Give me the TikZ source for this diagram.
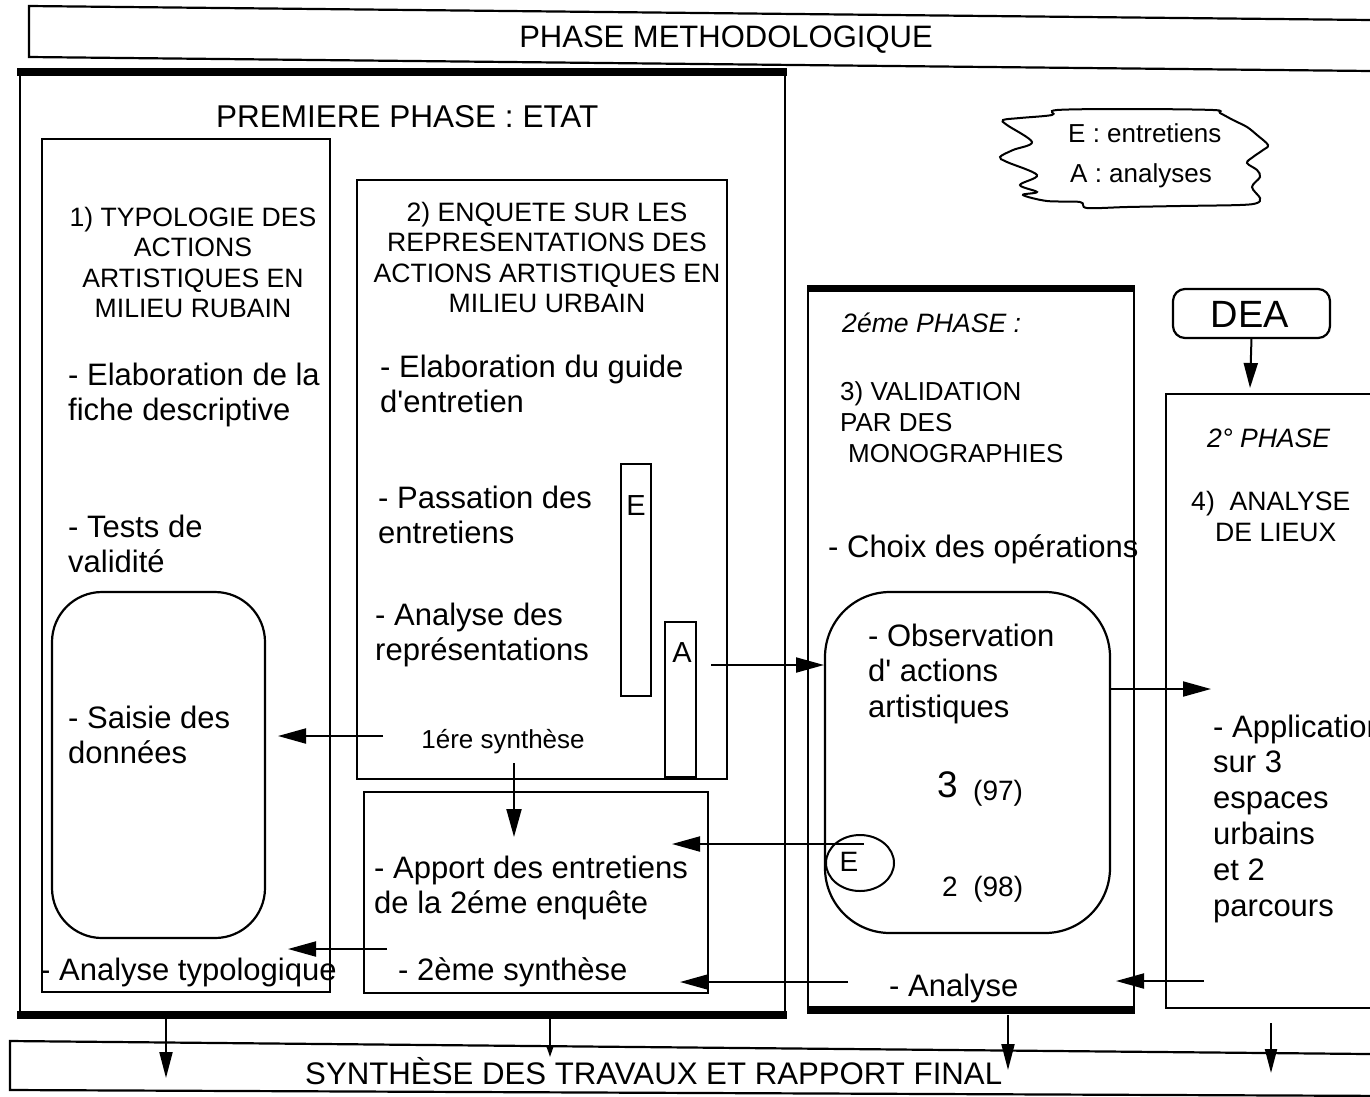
\documentclass[tikz,border=0pt]{standalone}
\usepackage{fontspec}
\setmainfont{Liberation Sans}
\usetikzlibrary{arrows.meta,shapes.geometric}
\newcommand\mylines[1]{\vtop{\halign{##\hfil\cr#1\crcr}}}
\newcommand\mycent[1]{\vtop{\halign{\hfil##\hfil\cr#1\crcr}}}
\begin{document}
\begin{tikzpicture}[x=1pt,y=-1pt,
  box/.style={draw, line width=2.2pt, rectangle, inner sep=0pt, outer sep=0pt},
  txt/.style={inner sep=0pt, font=\fontsize{31}{35.5}\selectfont},
  capstxt/.style={inner sep=0pt, font=\fontsize{26.6}{30.5}\selectfont},
  capsit/.style={inner sep=0pt, font=\fontsize{26.6}{30.5}\selectfont\itshape},
  smalltxt/.style={inner sep=0pt, font=\fontsize{26}{31}\selectfont},
  arr/.style={line width=2pt, -{Triangle[length=28pt,width=15pt]}},
  thickedge/.style={line width=8pt, line cap=butt}]
\useasboundingbox (0,0) rectangle (1370,1096);
\clip (0,0) rectangle (1370,1096);
% top title box
\draw[line width=2.2pt] (29,6) -- (1400,20.3) -- (1400,71.3) -- (29,57) -- cycle;
\node[inner sep=0pt, font=\fontsize{31}{35}\selectfont, anchor=base] (ttl) at (726,47) {PHASE METHODOLOGIQUE};
% first phase
\node[box, minimum width=765, minimum height=943] (big) at (402.5,543.5) {};
\draw[thickedge] ([xshift=-3pt]big.north west) -- ([xshift=2pt]big.north east);
\draw[thickedge] ([xshift=-3pt]big.south west) -- ([xshift=2pt]big.south east);
\node[inner sep=0pt, font=\fontsize{31.5}{35}\selectfont, anchor=base west] (p1) at (216,127) {PREMIERE PHASE : ETAT};
% box 1
\node[box, minimum width=288, minimum height=853] (b1) at (186,565.5) {};
\node[capstxt, anchor=base] (b1h) at (193,226) {\mycent{1) TYPOLOGIE DES\cr ACTIONS\cr ARTISTIQUES EN\cr MILIEU RUBAIN}};
\node[txt, anchor=base west] (b1a) at (68,385) {\mylines{- Elaboration de la\cr fiche descriptive}};
\node[txt, anchor=base west] (b1b) at (68,537) {\mylines{- Tests de\cr validité}};
\node[box, rounded corners=50pt, minimum width=213, minimum height=346] (r1) at (158.5,765) {};
\node[txt, anchor=base west] (b1c) at (68,728) {\mylines{- Saisie des\cr données}};
\node[txt, anchor=base west] (b1d) at (40,980) {- Analyse typologique};
% box 2
\node[box, minimum width=370, minimum height=599] (b2) at (542,479.5) {};
\node[capstxt, anchor=base] (b2h) at (547,221) {\mycent{2) ENQUETE SUR LES\cr REPRESENTATIONS DES\cr ACTIONS ARTISTIQUES EN\cr MILIEU URBAIN}};
\node[txt, anchor=base west] (b2a) at (380,377) {\mylines{- Elaboration du guide\cr d\textquotesingle entretien}};
\node[txt, anchor=base west] (b2b) at (378,508) {\mylines{- Passation des\cr entretiens}};
\node[txt, anchor=base west] (b2c) at (375,625) {\mylines{- Analyse des\cr représentations}};
\node[box, minimum width=30, minimum height=232] (eR) at (636,580) {};
\node[inner sep=0pt, font=\fontsize{29}{30}\selectfont, anchor=base] (eL) at (636,515) {E};
\node[box, minimum width=31, minimum height=155] (aR) at (680.5,699.5) {};
\node[inner sep=0pt, font=\fontsize{29}{30}\selectfont, anchor=base] (aL) at (682,662) {A};
\node[inner sep=0pt, font=\fontsize{26}{30}\selectfont, anchor=base] (s1) at (503,748) {1ére synthèse};
% box 3
\node[box, minimum width=344, minimum height=201] (b3) at (536,892.5) {};
\node[txt, anchor=base west] (b3a) at (374,878) {\mylines{- Apport des entretiens\cr de la 2éme enquête}};
\node[txt, anchor=base west] (s2) at (398,980) {- 2ème synthèse};
% second phase
\node[box, minimum width=326, minimum height=722] (p2) at (971,649) {};
\draw[thickedge, line width=7pt] ([xshift=-1pt]p2.north west) -- ([xshift=1pt]p2.north east);
\draw[thickedge] ([xshift=-1pt]p2.south west) -- ([xshift=1pt]p2.south east);
\node[capsit, anchor=base west] (p2t) at (842,332) {2éme PHASE :};
\node[smalltxt, anchor=base west] (p2h) at (840,400) {\mylines{3) VALIDATION\cr PAR DES\cr \hspace*{8pt}MONOGRAPHIES}};
\node[txt, anchor=base west] (p2a) at (828,557) {- Choix des opérations};
\node[box, rounded corners=65pt, minimum width=285, minimum height=341] (r2) at (967.5,762.5) {};
\node[txt, anchor=base west] (obs) at (868,646) {\mylines{- Observation\cr d\textquotesingle\ actions\cr artistiques}};
\node[inner sep=0pt, font=\fontsize{37}{40}\selectfont, anchor=base west] (n3) at (937,797) {3};
\node[inner sep=0pt, font=\fontsize{28}{30}\selectfont, anchor=base west] (n97) at (973,800) {(97)};
\node[draw, ellipse, line width=2pt, inner sep=0pt, minimum width=68, minimum height=56] (el) at (860,863) {};
\node[inner sep=0pt, font=\fontsize{28}{30}\selectfont, anchor=base] (elE) at (849,871) {E};
\node[inner sep=0pt, font=\fontsize{28}{30}\selectfont, anchor=base west] (n98) at (942,896) {2\ \ (98)};
\node[txt, anchor=base west] (an) at (889,996) {- Analyse};
% DEA and fourth box
\node[box, rounded corners=12pt, minimum width=157, minimum height=49] (dea) at (1251.5,313.5) {};
\node[inner sep=0pt, font=\fontsize{38}{40}\selectfont, anchor=base] (deaT) at (1250,327) {DEA};
\node[box, minimum width=234, minimum height=614] (b4) at (1283,701) {};
\node[capsit, anchor=base west] (b4t) at (1207,447) {2° PHASE};
\node[capstxt, anchor=base west] (b4h) at (1191,510) {4)\ \ ANALYSE};
\node[capstxt, anchor=base west] (b4h2) at (1215,541) {DE LIEUX};
\node[inner sep=0pt, font=\fontsize{31}{35.8}\selectfont, anchor=base west] (app) at (1213,737) {\mylines{- Application\cr sur 3\cr espaces\cr urbains\cr et 2\cr parcours}};
% cloud legend
\draw[line width=2pt] plot[smooth cycle, tension=0.55] coordinates {
 (1052,115) (1057,110) (1130,109) (1213,110) (1220,113) (1233,120) (1247,127) (1257,135) (1268,145)
 (1263,150) (1253,157) (1247,163) (1257,170) (1260,177) (1252,187) (1260,198) (1257,203)
 (1240,205) (1180,206) (1127,207) (1087,208) (1080,202) (1047,201) (1023,195) (1037,192)
 (1020,185) (1037,175) (1007,162) (1000,157) (1013,150) (1032,142) (1007,125) (1003,120) (1020,118)};
\node[inner sep=0pt, font=\fontsize{26}{30}\selectfont, anchor=base west] (lg1) at (1068,142) {E : entretiens};
\node[inner sep=0pt, font=\fontsize{26}{30}\selectfont, anchor=base west] (lg2) at (1070,182) {A : analyses};
% bottom box
\draw[line width=2.2pt] (10,1041) -- (1400,1054.3) -- (1400,1096) -- (10,1090) -- cycle;
\node[inner sep=0pt, font=\fontsize{31.2}{35}\selectfont, anchor=base west] (fin) at (305,1084) {SYNTHÈSE DES TRAVAUX ET RAPPORT FINAL};
% arrow end points
\coordinate (a1s) at (383,736); \coordinate (a1e) at (278,736);
\coordinate (a2s) at (514,763); \coordinate (a2e) at (514,837);
\coordinate (a3s) at (711,665); \coordinate (a3e) at (824,665);
\coordinate (a4s) at (864,844); \coordinate (a4e) at (672,844);
\coordinate (a5s) at (387,949); \coordinate (a5e) at (288,949);
\coordinate (a6s) at (848,982); \coordinate (a6e) at (680,982);
\coordinate (a7s) at (1204,981); \coordinate (a7e) at (1116,981);
\coordinate (a8s) at (1110,689); \coordinate (a8e) at (1211,689);
\coordinate (a9e) at (1250,388);
\coordinate (d1s) at (166,1019); \coordinate (d1e) at (166,1078);
\coordinate (d2s) at (550,1019); \coordinate (d2e) at (550,1057);
\coordinate (d3s) at (1008,1015); \coordinate (d3e) at (1008,1070);
\coordinate (d4s) at (1271,1023); \coordinate (d4e) at (1271,1073);
\draw[arr] (a1s) -- (a1e);
\draw[arr] (a2s) -- (a2e);
\draw[arr] (a3s) -- (a3e);
\draw[arr] (a4s) -- (a4e);
\draw[arr] (a5s) -- (a5e);
\draw[arr] (a6s) -- (a6e);
\draw[arr] (a7s) -- (a7e);
\draw[arr] (a8s) -- (a8e);
\draw[line width=2pt, -{Triangle[length=25pt,width=14pt]}] (dea.south) -- (a9e);
\draw[line width=2pt, -{Triangle[length=26pt,width=13pt]}] (d1s) -- (d1e);
\draw[line width=1.6pt, -{Triangle[length=11pt,width=7pt]}] (d2s) -- (d2e);
\draw[line width=2pt, -{Triangle[length=26pt,width=13pt]}] (d3s) -- (d3e);
\draw[line width=2pt, -{Triangle[length=24pt,width=12pt]}] (d4s) -- (d4e);
\end{tikzpicture}
\end{document}
